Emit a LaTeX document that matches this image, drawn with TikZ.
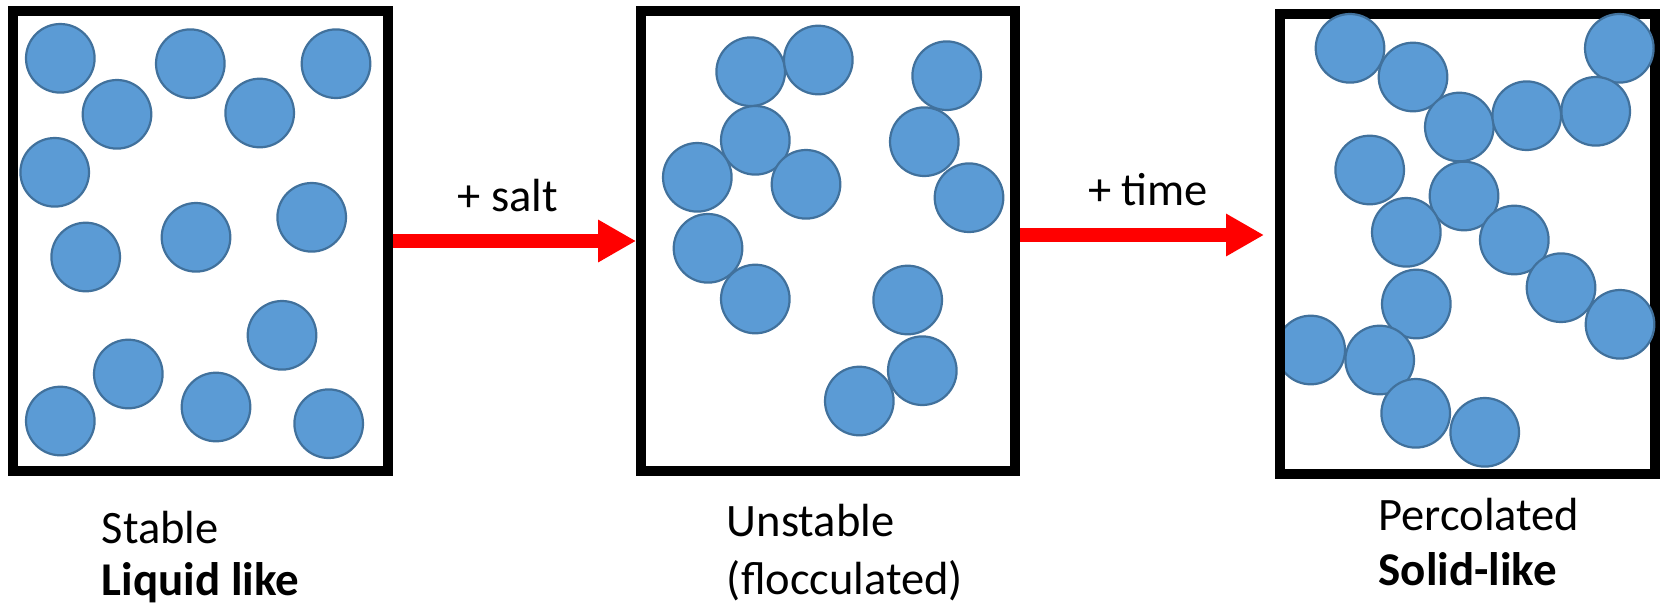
\documentclass[tikz,border=0pt]{standalone}
\usepackage{fontspec}
\setmainfont{Carlito}
\usetikzlibrary{arrows.meta}
\definecolor{ballfill}{HTML}{5B9BD5}
\definecolor{ballline}{HTML}{41719C}
\tikzset{
  ball/.style={circle, minimum size=68.6pt, inner sep=0pt, fill=ballfill, draw=ballline, line width=2.2pt},
  frame/.style={rectangle, draw=black, line width=10pt, inner sep=0pt, outer sep=5pt},
  redarrow/.style={draw=red, line width=13.7pt, -{Triangle[length=38pt,width=40pt]}, red},
  lbl/.style={anchor=base west, inner sep=0pt, font=\fontsize{46.5}{55}\selectfont},
  blbl/.style={anchor=base west, inner sep=0pt, font=\fontsize{47}{56}\selectfont\bfseries}
}
\begin{document}
\begin{tikzpicture}[x=1pt,y=-1pt]
\useasboundingbox (0,0) rectangle (1661,606);
% ---- box 1 ----
\node[frame, minimum width=374.4pt, minimum height=460pt] (box1) at (200.5,241) {};
\foreach \i/\x/\y in {1/60.3/58.3, 2/190.3/63.7, 3/336/63.7, 4/117/114.3, 5/259.7/113,
  6/54.7/172.3, 7/311.7/217.3, 8/196/237.3, 9/85.7/257, 10/282/335.3, 11/128.3/374,
  12/216/407, 13/60.3/421, 14/328.7/423.7}
  \node[ball] (a\i) at (\x,\y) {};
% ---- box 2 ----
\node[frame, minimum width=374.3pt, minimum height=460pt] (box2) at (828.2,241) {};
\foreach \i/\x/\y in {1/750.7/71.7, 2/818.3/60, 3/946.7/75.7, 4/755.3/140.3, 5/924.3/141.7,
  6/697.3/177.3, 7/806/184.3, 8/969/197.7, 9/708/248.3, 10/755.3/299, 11/907.7/300,
  12/922.3/370.7, 13/859.3/401}
  \node[ball] (b\i) at (\x,\y) {};
% ---- box 3 ----
\node[ball] (c14) at (1310.7,350) {};
\node[frame, minimum width=374.7pt, minimum height=459.7pt] (box3) at (1467.7,243.9) {};
\foreach \i/\x/\y in {1/1350/48.3, 2/1413/77, 3/1619.3/48.3, 4/1459.3/127, 5/1526.7/115.7,
  6/1595.7/111.3, 7/1369.7/170, 8/1464/196, 9/1406.3/232.3, 10/1514.3/240, 11/1561/287.7,
  12/1416.3/304, 13/1620/324.3, 15/1379.7/360, 16/1415.7/413.3, 17/1484.7/432.3}
  \node[ball] (c\i) at (\x,\y) {};
% ---- arrows ----
\draw[redarrow] (box1.east) -- (box2.west);
\coordinate (t2) at (1264,235);
\draw[redarrow] (box2.east |- t2) -- (t2);
% ---- labels ----
\node[lbl] (salt) at (457.5,211.7) {+ salt};
\node[lbl] (time) at (1088,205.7) {+ time};
\node[lbl] (s1) at (101.7,543.3) {Stable};
\node[blbl] (s1b) at (101.7,595) {Liquid like};
\node[lbl] (s2) at (726.7,536.7) {Unstable};
\node[lbl] (s2b) at (726.7,594) {(flocculated)};
\node[lbl] (s3) at (1378.3,530.7) {Percolated};
\node[blbl] (s3b) at (1378.3,585) {Solid-like};
\end{tikzpicture}
\end{document}
